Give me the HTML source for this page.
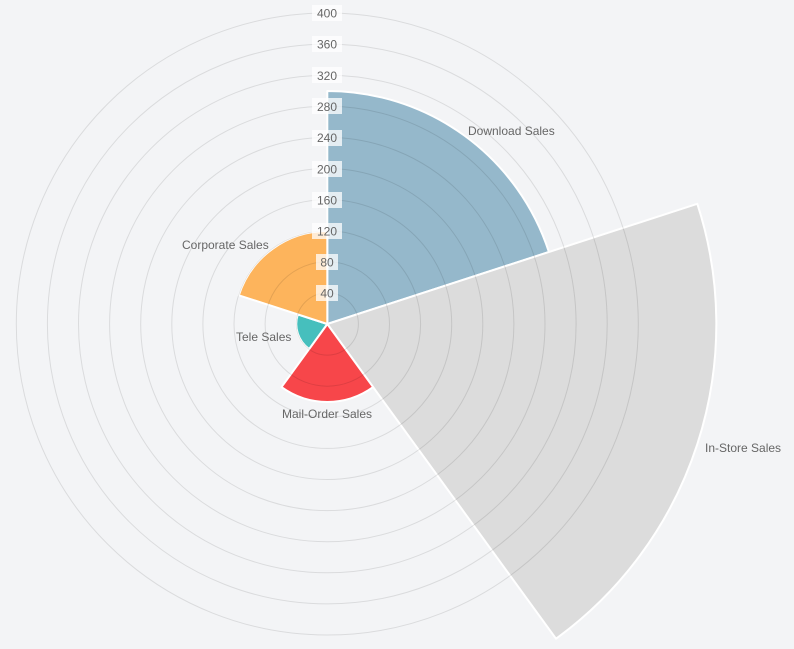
<!DOCTYPE html>
<html><head><style>
html,body{margin:0;padding:0;background:#f3f4f6;}
svg{display:block;font-family:"Liberation Sans",sans-serif;}
</style></head><body>
<svg width="794" height="649" viewBox="0 0 794 649">
<rect width="794" height="649" fill="#f3f4f6"/>
<g stroke="#fff" stroke-width="2" stroke-linejoin="round">
<path d="M327.3 324 L327.3 91 A233 233 0 0 1 548.9 252 Z" fill="#95b8cb"/>
<path d="M327.3 324 L697.3 203.8 A389 389 0 0 1 556 638.7 Z" fill="#dcdcdc"/>
<path d="M327.3 324 L373.1 387.1 A78 78 0 0 1 281.5 387.1 Z" fill="#f7464a"/>
<path d="M327.3 324 L309.1 349.1 A31 31 0 0 1 297.8 314.4 Z" fill="#46bfbd"/>
<path d="M327.3 324 L238.8 295.3 A93 93 0 0 1 327.3 231 Z" fill="#fdb45c"/>
</g>
<g fill="none" stroke="rgba(0,0,0,0.1)" stroke-width="1">
<circle cx="327.3" cy="324" r="31.1"/><circle cx="327.3" cy="324" r="62.2"/>
<circle cx="327.3" cy="324" r="93.3"/><circle cx="327.3" cy="324" r="124.4"/>
<circle cx="327.3" cy="324" r="155.5"/><circle cx="327.3" cy="324" r="186.6"/>
<circle cx="327.3" cy="324" r="217.7"/><circle cx="327.3" cy="324" r="248.8"/>
<circle cx="327.3" cy="324" r="279.9"/><circle cx="327.3" cy="324" r="311"/>
</g>
<g font-size="12" fill="#666" text-anchor="middle">
<g fill="rgba(255,255,255,0.75)">
<rect x="316" y="285" width="22" height="16"/>
<rect x="316" y="254" width="22" height="16"/>
<rect x="312" y="223" width="30" height="16"/>
<rect x="312" y="192" width="30" height="16"/>
<rect x="312" y="161" width="30" height="16"/>
<rect x="312" y="130" width="30" height="16"/>
<rect x="312" y="98" width="30" height="16"/>
<rect x="312" y="67" width="30" height="16"/>
<rect x="312" y="36" width="30" height="16"/>
<rect x="312" y="5" width="30" height="16"/>
</g>
<text x="327" y="297.5">40</text>
<text x="327" y="266.5">80</text>
<text x="327" y="235.5">120</text>
<text x="327" y="204.5">160</text>
<text x="327" y="173.5">200</text>
<text x="327" y="142">240</text>
<text x="327" y="111">280</text>
<text x="327" y="80">320</text>
<text x="327" y="48.5">360</text>
<text x="327" y="17.5">400</text>
</g>
<g font-size="12" fill="#666">
<text x="468" y="135">Download Sales</text>
<text x="705" y="452">In-Store Sales</text>
<text x="327" y="418" text-anchor="middle">Mail-Order Sales</text>
<text x="236" y="341">Tele Sales</text>
<text x="182" y="249">Corporate Sales</text>
</g>
</svg>
</body></html>
